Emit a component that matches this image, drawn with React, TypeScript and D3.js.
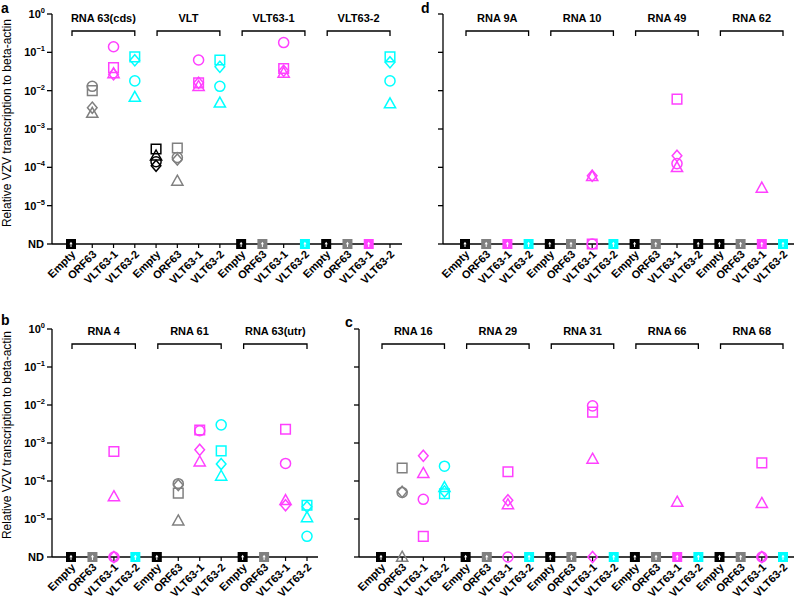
import React from "react";
import * as d3 from "d3";

// ---------- DATA ----------
const conditions = ["Empty", "ORF63", "VLT63-1", "VLT63-2"];
const replicateShapes = ["square", "circle", "triangle", "diamond"];
const conditionColors = ["#000000", "#808080", "#ff40ff", "#00ffff"];
const tickExponents = [0, -1, -2, -3, -4, -5];
const ndLabel = "ND";
const yTitle = "Relative VZV transcription to beta-actin";

// each row = one condition within a group: [square, circle, triangle, diamond]; null = not detected
const panelAGroups = ["RNA 63(cds)", "VLT", "VLT63-1", "VLT63-2"];
const panelAValues = [
  [null, null, null, null],
  [1.0e-2, 1.3e-2, 2.6e-3, 3.6e-3],
  [4.0e-2, 1.4e-1, 2.8e-2, 2.7e-2],
  [7.6e-2, 1.8e-2, 6.8e-3, 6.2e-2],
  [3.0e-4, 1.4e-4, 2.0e-4, 1.1e-4],
  [3.2e-4, 1.8e-4, 4.4e-5, 1.6e-4],
  [1.6e-2, 6.3e-2, 1.3e-2, 1.6e-2],
  [6.3e-2, 1.3e-2, 4.8e-3, 4.2e-2],
  [null, null, null, null],
  [null, null, null, null],
  [3.8e-2, 1.8e-1, 2.9e-2, 3.3e-2],
  [null, null, null, null],
  [null, null, null, null],
  [null, null, null, null],
  [null, null, null, null],
  [7.6e-2, 1.8e-2, 4.6e-3, 5.5e-2],
];

const panelDGroups = ["RNA 9A", "RNA 10", "RNA 49", "RNA 62"];
const panelDValues = [
  [null, null, null, null],
  [null, null, null, null],
  [null, null, null, null],
  [null, null, null, null],
  [null, null, null, null],
  [null, null, null, null],
  [null, null, 5.8e-5, 6.0e-5],
  [null, null, null, null],
  [null, null, null, null],
  [null, null, null, null],
  [6.0e-3, 1.25e-4, 1.0e-4, 2.0e-4],
  [null, null, null, null],
  [null, null, null, null],
  [null, null, null, null],
  [null, null, 2.9e-5, null],
  [null, null, null, null],
];
// ND marker colour exceptions (index of row -> condition colour index)
const panelDNdColorOverride: Record<number, number> = { 11: 0 };

const panelBGroups = ["RNA 4", "RNA 61", "RNA 63(utr)"];
const panelBValues = [
  [null, null, null, null],
  [null, null, null, null],
  [6.0e-4, null, 3.9e-5, null],
  [null, null, null, null],
  [null, null, null, null],
  [4.8e-5, 8.5e-5, 9.0e-6, 7.8e-5],
  [2.2e-3, 2.1e-3, 3.2e-4, 6.6e-4],
  [6.2e-4, 3.0e-3, 1.35e-4, 2.8e-4],
  [null, null, null, null],
  [null, null, null, null],
  [2.3e-3, 2.9e-4, 3.1e-5, 2.3e-5],
  [2.3e-5, 3.5e-6, 1.1e-5, 2.1e-5],
];

const panelCGroups = ["RNA 16", "RNA 29", "RNA 31", "RNA 66", "RNA 68"];
const panelCValues = [
  [null, null, null, null],
  [2.2e-4, 5.0e-5, null, 5.2e-5],
  [3.5e-6, 3.3e-5, 1.6e-4, 4.6e-4],
  [4.6e-5, 2.45e-4, 6.8e-5, 5.3e-5],
  [null, null, null, null],
  [null, null, null, null],
  [1.75e-4, null, 2.4e-5, 3.1e-5],
  [null, null, null, null],
  [null, null, null, null],
  [null, null, null, null],
  [6.5e-3, 9.5e-3, 3.8e-4, null],
  [null, null, null, null],
  [null, null, null, null],
  [null, null, null, null],
  [null, null, 2.8e-5, null],
  [null, null, null, null],
  [null, null, null, null],
  [null, null, null, null],
  [3.0e-4, null, 2.6e-5, null],
  [null, null, null, null],
];

// ---------- LAYOUT ----------
const FONT = "Arial, 'Liberation Sans', Helvetica, sans-serif";
const ND_VALUE = 1e-6;

type PanelProps = {
  letter: string;
  letterX: number;
  letterY: number;
  groups: string[];
  values: (number | null)[][];
  ndOverride?: Record<number, number>;
  axisX: number;
  yTop: number;
  yND: number;
  xFirst: number;
  xLast: number;
  axisEnd: number;
  showYLabels: boolean;
  groupLabelY: number;
  bracketY: number;
};

function shapePath(shape: string): string {
  switch (shape) {
    case "square":
      return "M-4.8,-4.8H4.8V4.8H-4.8Z";
    case "circle":
      return d3.symbol().type(d3.symbolCircle).size(80)() as string;
    case "triangle":
      return "M0,-5.8L5.6,4.2L-5.6,4.2Z";
    case "diamond":
      return "M0,-5.6L4.8,0L0,5.6L-4.8,0Z";
  }
  return "";
}

function Panel(p: PanelProps) {
  const n = p.values.length;
  const x = d3
    .scalePoint<string>()
    .domain(d3.range(n).map(String))
    .range([p.xFirst, p.xLast]);
  const y = d3.scaleLog().domain([ND_VALUE, 1]).range([p.yND, p.yTop]);

  const elems: React.ReactNode[] = [];

  // y axis
  elems.push(
    <line key="yaxis" x1={p.axisX} x2={p.axisX} y1={p.yTop} y2={p.yND} stroke="#000" strokeWidth={1.3} />
  );
  const yTickVals = [...tickExponents.map((e) => Math.pow(10, e)), ND_VALUE];
  yTickVals.forEach((v, i) => {
    const yy = y(v);
    elems.push(
      <line key={"yt" + i} x1={p.axisX - 5} x2={p.axisX} y1={yy} y2={yy} stroke="#000" strokeWidth={1.3} />
    );
    if (p.showYLabels) {
      if (i < tickExponents.length) {
        const e = tickExponents[i];
        elems.push(
          <text key={"yl" + i} x={p.axisX - 7} y={yy + 4} textAnchor="end" fontSize={11} fontWeight="bold" fontFamily={FONT}>
            10
            <tspan dy={-5} fontSize={7.5}>
              {e === 0 ? "0" : "\u2212" + Math.abs(e)}
            </tspan>
          </text>
        );
      } else {
        elems.push(
          <text key={"yl" + i} x={p.axisX - 8} y={yy + 4} textAnchor="end" fontSize={11} fontWeight="bold" fontFamily={FONT}>
            {ndLabel}
          </text>
        );
      }
    }
  });

  // x axis
  elems.push(
    <line key="xaxis" x1={p.axisX} x2={p.axisEnd} y1={p.yND} y2={p.yND} stroke="#000" strokeWidth={1.3} />
  );
  p.values.forEach((_, i) => {
    const xx = x(String(i)) as number;
    elems.push(
      <line key={"xt" + i} x1={xx} x2={xx} y1={p.yND} y2={p.yND + 4} stroke="#000" strokeWidth={1.2} />
    );
    const lx = xx + 5;
    const ly = p.yND + 11;
    elems.push(
      <text
        key={"xl" + i}
        x={lx}
        y={ly}
        textAnchor="end"
        fontSize={11}
        fontWeight="bold"
        fontFamily={FONT}
        transform={`rotate(-45 ${lx} ${ly})`}
      >
        {conditions[i % 4]}
      </text>
    );
  });

  // groups: labels + brackets
  p.groups.forEach((g, gi) => {
    const x0 = (x(String(gi * 4)) as number) + 1;
    const x1 = x(String(gi * 4 + 3)) as number;
    elems.push(
      <path
        key={"br" + gi}
        d={`M${x0},${p.bracketY + 5}V${p.bracketY}H${x1}V${p.bracketY + 5}`}
        fill="none"
        stroke="#000"
        strokeWidth={1.3}
      />
    );
    elems.push(
      <text key={"gl" + gi} x={(x0 + x1) / 2} y={p.groupLabelY} textAnchor="middle" fontSize={11} fontWeight="bold" fontFamily={FONT}>
        {g}
      </text>
    );
  });

  // points
  p.values.forEach((row, i) => {
    const xx = x(String(i)) as number;
    const ci = i % 4;
    const color = conditionColors[ci];
    const ndCount = row.filter((v) => v === null).length;
    row.forEach((v, r) => {
      if (v === null) return;
      elems.push(
        <path
          key={`pt${i}-${r}`}
          d={shapePath(replicateShapes[r])}
          transform={`translate(${xx},${y(v)})`}
          fill="none"
          stroke={color}
          strokeWidth={1.5}
        />
      );
    });
    if (ndCount >= 3) {
      const ndColor = p.ndOverride && p.ndOverride[i] !== undefined ? conditionColors[p.ndOverride[i]] : color;
      const yy = y(ND_VALUE);
      elems.push(
        <g key={"nd" + i} transform={`translate(${xx},${yy})`}>
          <rect x={-5} y={-5} width={10} height={10} fill={ndColor} />
          <path d="M0,-2.2L1.6,0.2H-1.6Z" fill="#fff" />
          <line x1={0} x2={0} y1={0} y2={3} stroke="#fff" strokeWidth={1} />
        </g>
      );
    } else if (ndCount > 0) {
      row.forEach((v, r) => {
        if (v !== null) return;
        elems.push(
          <path
            key={`nd${i}-${r}`}
            d={shapePath(replicateShapes[r])}
            transform={`translate(${xx},${y(ND_VALUE)})`}
            fill="none"
            stroke={color}
            strokeWidth={1.5}
          />
        );
      });
    }
  });

  elems.push(
    <text key="letter" x={p.letterX} y={p.letterY} fontSize={14} fontWeight="bold" fontFamily={FONT}>
      {p.letter}
    </text>
  );

  return <g>{elems}</g>;
}

export default function App() {
  return (
    <svg width={794} height={604} style={{ position: "absolute", left: 0, top: 0, background: "#fff" }}>
      <rect width={794} height={604} fill="#fff" />
      <text
        transform="translate(11,123) rotate(-90)"
        textAnchor="middle"
        fontSize={12}
        fontFamily={FONT}
      >
        {yTitle}
      </text>
      <text
        transform="translate(11,435) rotate(-90)"
        textAnchor="middle"
        fontSize={12}
        fontFamily={FONT}
      >
        {yTitle}
      </text>
      <Panel
        letter="a" letterX={1} letterY={13}
        groups={panelAGroups} values={panelAValues}
        axisX={52} yTop={14} yND={244} xFirst={71} xLast={390} axisEnd={402}
        showYLabels={true} groupLabelY={22} bracketY={31}
      />
      <Panel
        letter="d" letterX={421} letterY={13}
        groups={panelDGroups} values={panelDValues} ndOverride={panelDNdColorOverride}
        axisX={443} yTop={14} yND={244} xFirst={465} xLast={783} axisEnd={794}
        showYLabels={false} groupLabelY={22} bracketY={31}
      />
      <Panel
        letter="b" letterX={1} letterY={325}
        groups={panelBGroups} values={panelBValues}
        axisX={52} yTop={329} yND={557} xFirst={71} xLast={307} axisEnd={318}
        showYLabels={true} groupLabelY={335} bracketY={344}
      />
      <Panel
        letter="c" letterX={345} letterY={327}
        groups={panelCGroups} values={panelCValues}
        axisX={359} yTop={329} yND={557} xFirst={381} xLast={783} axisEnd={794}
        showYLabels={false} groupLabelY={335} bracketY={344}
      />
    </svg>
  );
}
